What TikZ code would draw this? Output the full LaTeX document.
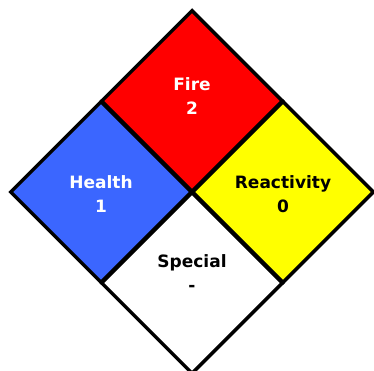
\documentclass[tikz,border=0pt]{standalone}
\usepackage{fontspec}
\setsansfont{DejaVu Sans}
\usetikzlibrary{shapes.geometric}

\definecolor{fired}{RGB}{255,0,0}
\definecolor{healthblue}{RGB}{59,102,255}
\definecolor{reactyellow}{RGB}{255,255,0}

\begin{document}
\begin{tikzpicture}[x=1pt, y=-1pt,
  quad/.style={diamond, draw=black, line width=3.5pt, aspect=1, minimum width=182pt, minimum height=182pt, inner sep=0pt},
  hazard/.style={font=\sffamily\bfseries\fontsize{17}{24}\selectfont, align=center}]
\useasboundingbox (0,0) rectangle (374,371);

\node[quad, fill=fired] (fire) at (192,101) {}; %top
\node[quad, fill=healthblue] (health) at (101,192) {}; %left
\node[quad, fill=reactyellow] (react) at (283,192) {}; %right
\node[quad, fill=white] (special) at (192,283) {}; %bottom

\node[hazard, text=white] (firetxt) at (192,96) {Fire\\2};
\node[hazard, text=white] (healthtxt) at (101,194) {Health\\1};
\node[hazard, text=black] (reacttxt) at (283,194) {Reactivity\\0};
\node[hazard, text=black] (specialtxt) at (192,273) {Special\\-};

\end{tikzpicture}
\end{document}
